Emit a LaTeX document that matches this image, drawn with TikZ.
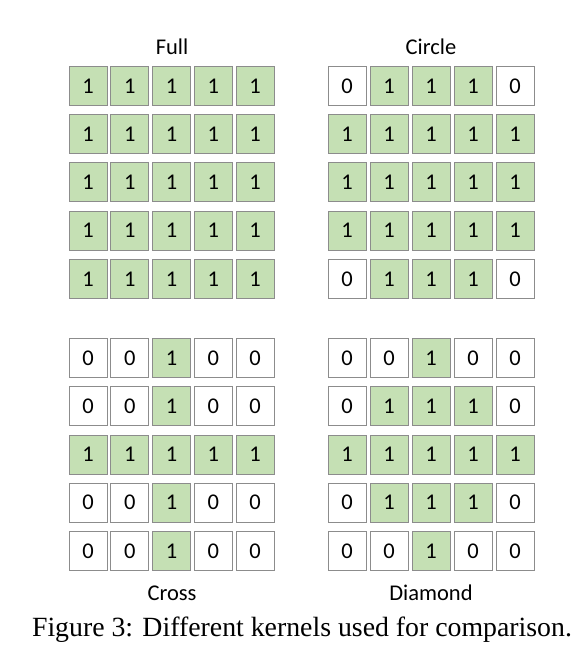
\documentclass[tikz,border=0pt]{standalone}
\usepackage{fontspec}
\setmainfont{Liberation Serif}
\newfontfamily\calib{Carlito}
\usepackage{xcolor}
\definecolor{kgreen}{HTML}{C5E0B4}
\definecolor{kedge}{HTML}{8C8C8C}

\begin{document}
\begin{tikzpicture}[x=1pt,y=-1pt]
\tikzset{
  cell/.style={draw=kedge,line width=0.9pt,minimum width=38pt,minimum height=39pt,inner sep=0pt,font=\calib\fontsize{22.5}{25}\selectfont},
  cell0/.style={cell,fill=white},
  cell1/.style={cell,fill=kgreen},
  kname/.style={inner sep=0pt,font=\calib\fontsize{22.5}{25}\selectfont}
}
\useasboundingbox (0,0) rectangle (575,663);
% Full
\node[kname] (fullname) at (172,47) {Full};
\foreach \row [count=\r] in {{1,1,1,1,1},{1,1,1,1,1},{1,1,1,1,1},{1,1,1,1,1},{1,1,1,1,1}}
  \foreach \v [count=\c] in \row
    \node[cell\v] (full-\r-\c) at ({88+41.75*(\c-1)},{86+48.2*(\r-1)}) {\v};
% Circle
\node[kname] (circlename) at (431,47) {Circle};
\foreach \row [count=\r] in {{0,1,1,1,0},{1,1,1,1,1},{1,1,1,1,1},{1,1,1,1,1},{0,1,1,1,0}}
  \foreach \v [count=\c] in \row
    \node[cell\v] (circle-\r-\c) at ({347+42*(\c-1)},{86+48.2*(\r-1)}) {\v};
% Cross
\foreach \row [count=\r] in {{0,0,1,0,0},{0,0,1,0,0},{1,1,1,1,1},{0,0,1,0,0},{0,0,1,0,0}}
  \foreach \v [count=\c] in \row
    \node[cell\v] (cross-\r-\c) at ({88+41.75*(\c-1)},{358+48.25*(\r-1)}) {\v};
\node[kname] (crossname) at (172,593) {Cross};
% Diamond
\foreach \row [count=\r] in {{0,0,1,0,0},{0,1,1,1,0},{1,1,1,1,1},{0,1,1,1,0},{0,0,1,0,0}}
  \foreach \v [count=\c] in \row
    \node[cell\v] (diamond-\r-\c) at ({347+42*(\c-1)},{358+48.25*(\r-1)}) {\v};
\node[kname] (diamondname) at (431,593) {Diamond};
% caption
\node[inner sep=0pt,font=\fontsize{27.8}{31}\selectfont] (caption) at (302,630) {Figure 3: Different kernels used for comparison.};
\end{tikzpicture}
\end{document}
